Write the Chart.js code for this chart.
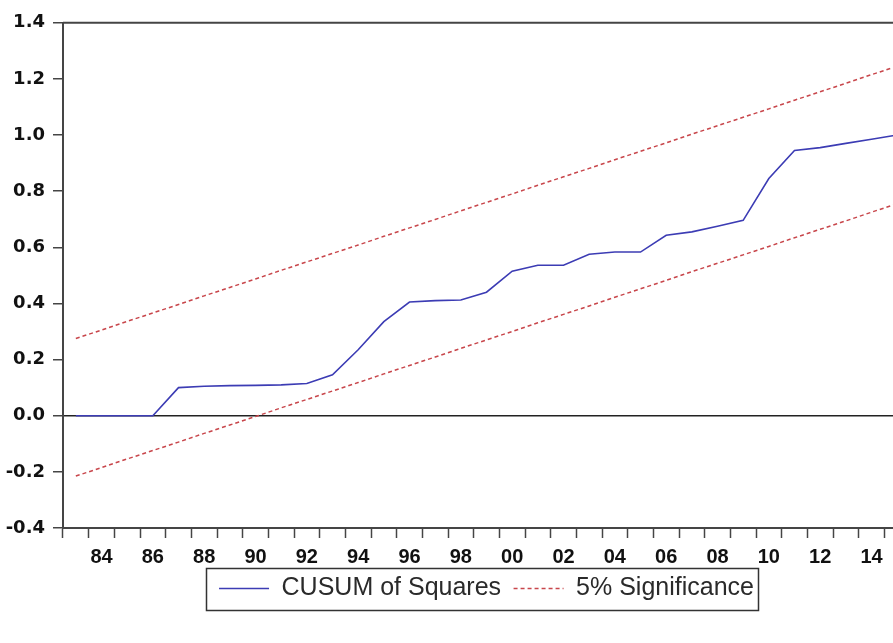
<!DOCTYPE html>
<html>
<head>
<meta charset="utf-8">
<script src="https://cdn.jsdelivr.net/npm/chart.js@4/dist/chart.umd.min.js"></script>
<style>
  html, body { margin: 0; padding: 0; background: #fff; overflow: hidden; }
  #grafica { display: block; }
</style>
</head>
<body>
<canvas id="grafica" width="910" height="643"></canvas>
<script>
/* Datos */

// años (83 .. 15)
let anios = ['83','84','85','86','87','88','89','90','91','92','93','94','95','96','97','98',
             '99','00','01','02','03','04','05','06','07','08','09','10','11','12','13','14','15'];

// CUSUM of Squares
let cusumSq = [0, 0, 0, 0, 0.100, 0.105, 0.107, 0.108, 0.110, 0.115, 0.146, 0.235, 0.335, 0.405, 0.410, 0.412,
               0.440, 0.515, 0.536, 0.536, 0.575, 0.583, 0.583, 0.643, 0.655, 0.675, 0.696, 0.845, 0.945, 0.955,
               0.970, 0.985, 1.000];

// bandas del 5% de significancia
let bandaSup = [0.275, 0.305, 0.336, 0.366, 0.396, 0.427, 0.457, 0.487, 0.518, 0.548, 0.578, 0.608, 0.639, 0.669,
                0.699, 0.730, 0.760, 0.790, 0.821, 0.851, 0.881, 0.912, 0.942, 0.972, 1.003, 1.033, 1.063, 1.093,
                1.124, 1.154, 1.184, 1.215, 1.245];
let bandaInf = [-0.215, -0.185, -0.154, -0.124, -0.094, -0.063, -0.033, -0.003, 0.028, 0.058, 0.088, 0.118, 0.149,
                0.179, 0.209, 0.240, 0.270, 0.300, 0.331, 0.361, 0.391, 0.422, 0.452, 0.482, 0.513, 0.543, 0.573,
                0.603, 0.634, 0.664, 0.694, 0.725, 0.755];

// ticks del eje y
let yMin = -0.4;
let yMax = 1.4;
let yPaso = 0.2;

let colorEje = '#454545';
let colorAzul = '#3c3cb4';
let colorRojo = '#c8464b';

// marco superior y recuadro de la leyenda
const marcoPlugin = {
    id: 'marco',
    afterDraw(chart) {
        const ctx = chart.ctx;
        const area = chart.chartArea;
        ctx.save();
        // linea superior del marco
        ctx.strokeStyle = colorEje;
        ctx.lineWidth = 2;
        ctx.beginPath();
        ctx.moveTo(area.left, area.top);
        ctx.lineTo(area.right, area.top);
        ctx.stroke();

        // recuadro alrededor de la leyenda
        const cajas = chart.legend.legendHitBoxes;
        if (cajas && cajas.length) {
            let izq = Math.min(...cajas.map(c => c.left)) - 13;
            let der = Math.max(...cajas.map(c => c.left + c.width)) + 4;
            let centro = cajas[0].top + cajas[0].height / 2;
            ctx.strokeStyle = '#333';
            ctx.lineWidth = 1.5;
            ctx.strokeRect(Math.round(izq) + 0.5, Math.round(centro - 21) + 0.5, Math.round(der - izq), 42);
        }
        ctx.restore();
    }
};

let grafica;

function crearGrafica() {
    let ctx = document.getElementById('grafica').getContext('2d');
    grafica = new Chart(ctx, {
        type: 'line',
        data: {
            labels: anios,
            datasets: [{
                label: 'CUSUM of Squares',
                data: cusumSq,
                borderColor: colorAzul,
                borderWidth: 1.6,
                pointRadius: 0,
                tension: 0,
                fill: false
            }, {
                label: '5% Significance',
                data: bandaSup,
                borderColor: colorRojo,
                borderWidth: 1.5,
                borderDash: [4, 3],
                pointRadius: 0,
                tension: 0,
                fill: false
            }, {
                label: '',
                data: bandaInf,
                borderColor: colorRojo,
                borderWidth: 1.5,
                borderDash: [4, 3],
                pointRadius: 0,
                tension: 0,
                fill: false
            }]
        },
        options: {
            responsive: false,
            animation: false,
            devicePixelRatio: 1,
            layout: {
                padding: { top: 22.7, left: 0, right: 0, bottom: 32 }
            },
            plugins: {
                legend: {
                    position: 'bottom',
                    fullSize: false,
                    labels: {
                        usePointStyle: true,
                        pointStyle: 'line',
                        pointStyleWidth: 50,
                        color: '#2a2a2a',
                        padding: 12.5,
                        font: { family: "'Liberation Sans', Arial, sans-serif", size: 25 },
                        generateLabels: function(chart) {
                            return chart.data.datasets
                                .map((ds, i) => ({
                                    text: ds.label,
                                    strokeStyle: ds.borderColor,
                                    fillStyle: ds.borderColor,
                                    lineWidth: ds.borderWidth,
                                    lineDash: ds.borderDash || [],
                                    pointStyle: 'line',
                                    fontColor: '#2a2a2a',
                                    hidden: false,
                                    datasetIndex: i
                                }))
                                .filter(item => item.text !== '');
                        }
                    }
                },
                tooltip: { enabled: false }
            },
            scales: {
                x: {
                    type: 'category',
                    offset: true,
                    afterFit: function(scale) { scale.height = 35.5; },
                    grid: {
                        display: true,
                        offset: true,
                        drawOnChartArea: false,
                        tickLength: 10,
                        tickColor: colorEje,
                        tickWidth: 1.5
                    },
                    border: { display: true, color: colorEje, width: 2 },
                    ticks: {
                        autoSkip: false,
                        maxRotation: 0,
                        padding: 7,
                        color: '#111',
                        font: { family: "'Liberation Sans', Arial, sans-serif", size: 20, weight: 'bold' },
                        callback: function(val) {
                            let etiqueta = this.getLabelForValue(val);
                            return Number(etiqueta) % 2 === 0 ? etiqueta : '';
                        }
                    }
                },
                y: {
                    min: yMin,
                    max: yMax,
                    afterFit: function(scale) { scale.width = 63; },
                    grid: {
                        display: true,
                        drawOnChartArea: true,
                        tickLength: 10,
                        tickWidth: 1.5,
                        tickColor: colorEje,
                        lineWidth: 1.5,
                        color: ctx => (Math.abs(ctx.tick.value) < 1e-9 ? '#222' : 'rgba(0,0,0,0)')
                    },
                    border: { display: true, color: colorEje, width: 2 },
                    ticks: {
                        stepSize: yPaso,
                        padding: 8,
                        color: '#111',
                        font: { family: "'DejaVu Sans', sans-serif", size: 18, weight: 'bold' },
                        callback: v => (Math.abs(v) < 1e-9 ? '0.0' : Number(v).toFixed(1))
                    }
                }
            }
        },
        plugins: [marcoPlugin]
    });
}

crearGrafica();
</script>
</body>
</html>
